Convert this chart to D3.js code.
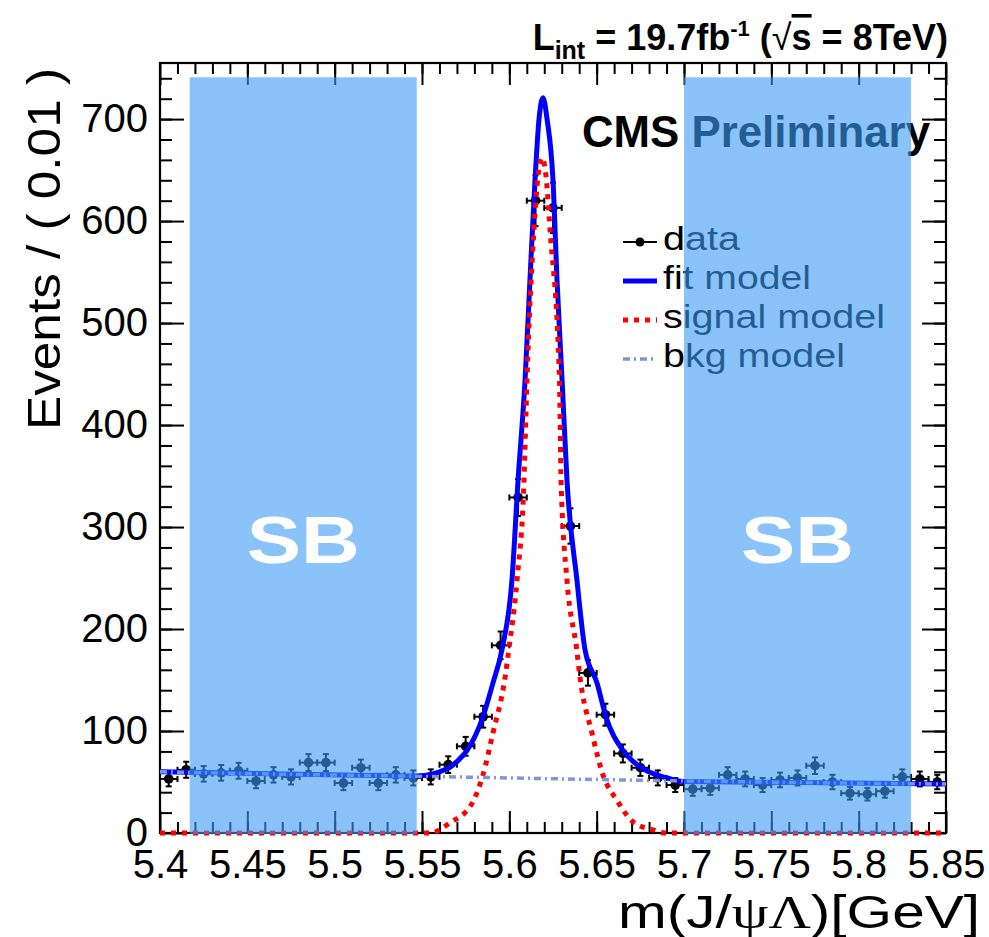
<!DOCTYPE html>
<html>
<head>
<meta charset="utf-8">
<script src="https://cdn.jsdelivr.net/npm/d3@7"></script>
<style>
  body { margin: 0; background: #fff; }
  text { font-family: 'Liberation Sans', Arial, sans-serif; }
</style>
</head>
<body>
<div id="chart"></div>
<script>
// binned data, 0.01 GeV bins
const massBins = [5.405, 5.415, 5.425, 5.435, 5.445, 5.455, 5.465, 5.475, 5.485, 5.495,
    5.505, 5.515, 5.525, 5.535, 5.545, 5.555, 5.565, 5.575, 5.585, 5.595,
    5.605, 5.615, 5.625, 5.635, 5.645, 5.655, 5.665, 5.675, 5.685, 5.695,
    5.705, 5.715, 5.725, 5.735, 5.745, 5.755, 5.765, 5.775, 5.785, 5.795,
    5.805, 5.815, 5.825, 5.835, 5.845];
const counts = [53, 62, 58, 59, 61, 51, 57, 55, 69, 69,
    49, 64, 49, 57, 54, 55, 67, 85, 114, 184,
    329, 620, 613, 301, 157, 116, 78, 64, 54, 47,
    43, 44, 57, 53, 47, 52, 54, 66, 50, 39,
    38, 41, 55, 53, 50];

// curves
const fitMass = [5.4, 5.48, 5.547, 5.5643, 5.5706, 5.5758, 5.5849, 5.5906, 5.5958, 5.6015,
    5.605, 5.609, 5.6118, 5.6147, 5.617, 5.6193, 5.6216, 5.625, 5.6273, 5.6302,
    5.633, 5.6387, 5.6433, 5.6502, 5.6553, 5.665, 5.6748, 5.6903, 5.6994, 5.7664, 5.85];
const fitValues = [60, 57.5, 56, 63, 71, 81, 114, 147, 180, 248,
    346, 444, 542, 640, 700, 721, 700, 640, 542, 444,
    346, 248, 180, 147, 114, 81, 65, 54, 50.5, 49.5, 48];

const sigMass = [5.4, 5.5546, 5.566, 5.5786, 5.5849, 5.5906, 5.5975, 5.5998, 5.6044, 5.6084,
    5.6101, 5.6141, 5.6164, 5.6187, 5.621, 5.6233, 5.6287, 5.6296, 5.633, 5.6385,
    5.6405, 5.6473, 5.6536, 5.6616, 5.6708, 5.6823, 5.6891, 5.85];
const sigValues = [0, 0, 10, 29, 57, 98, 152, 181, 248, 346,
    444, 591, 644, 662, 644, 591, 444, 346, 248, 181,
    152, 98, 57, 32, 11, 3, 0, 0];

const bkgMass = [5.4, 5.475, 5.55, 5.625, 5.7, 5.775, 5.85];
const bkgValues = [60, 57.5, 55.5, 53.2, 51, 49.3, 48];

const sbRanges = [[5.417, 5.547], [5.700, 5.830]];
const sbTop = 741;

const xMajorTicks = [5.4, 5.45, 5.5, 5.55, 5.6, 5.65, 5.7, 5.75, 5.8, 5.85];
const yMajorTicks = [0, 100, 200, 300, 400, 500, 600, 700];

const legendItems = ['data', 'fit model', 'signal model', 'bkg model'];
const legendWidths = [77, 148, 222, 182];

const W = 989, H = 937;
const frame = { left: 160, right: 946, top: 63, bottom: 833 };

const svg = d3.select('#chart').append('svg')
    .attr('width', W)
    .attr('height', H);

svg.append('rect').attr('width', W).attr('height', H).attr('fill', '#fff');

const x = d3.scaleLinear().domain([5.4, 5.85]).range([frame.left, frame.right]);
const y = d3.scaleLinear().domain([0, 755]).range([frame.bottom, frame.top]);

const xMinorTicks = d3.range(5.41, 5.85, 0.01).map(v => +v.toFixed(2));
const yMinorTicks = d3.range(20, 755, 20);

function addAxis(gen, tx, ty) {
    const g = svg.append('g')
        .attr('transform', `translate(${tx},${ty})`)
        .call(gen);
    g.select('.domain').remove();
    g.selectAll('line').attr('stroke', '#000').attr('stroke-width', 2);
    g.selectAll('text')
        .attr('font-family', "'Liberation Sans', Arial, sans-serif")
        .attr('font-size', 40)
        .attr('fill', '#000');
    return g;
}

// ticks inside the frame on all four sides
addAxis(d3.axisBottom(x).tickValues(xMajorTicks).tickSize(-22).tickPadding(17)
    .tickFormat(d => String(+d.toFixed(2))), 0, frame.bottom);
addAxis(d3.axisBottom(x).tickValues(xMinorTicks).tickSize(-11).tickFormat(''), 0, frame.bottom);
addAxis(d3.axisTop(x).tickValues(xMajorTicks).tickSize(-22).tickFormat(''), 0, frame.top);
addAxis(d3.axisTop(x).tickValues(xMinorTicks).tickSize(-11).tickFormat(''), 0, frame.top);
addAxis(d3.axisLeft(y).tickValues(yMajorTicks).tickSize(-24).tickPadding(12), frame.left, 0);
addAxis(d3.axisLeft(y).tickValues(yMinorTicks).tickSize(-12).tickFormat(''), frame.left, 0);
addAxis(d3.axisRight(y).tickValues(yMajorTicks).tickSize(-24).tickFormat(''), frame.right, 0);
addAxis(d3.axisRight(y).tickValues(yMinorTicks).tickSize(-12).tickFormat(''), frame.right, 0);

svg.append('rect')
    .attr('x', frame.left).attr('y', frame.top)
    .attr('width', frame.right - frame.left).attr('height', frame.bottom - frame.top)
    .attr('fill', 'none').attr('stroke', '#000').attr('stroke-width', 2.2);

svg.append('clipPath').attr('id', 'plotClip')
    .append('rect')
    .attr('x', frame.left).attr('y', frame.top - 5)
    .attr('width', frame.right - frame.left).attr('height', frame.bottom - frame.top + 8);

const plot = svg.append('g').attr('clip-path', 'url(#plotClip)');

// data points with poisson errors
const pts = plot.append('g').attr('stroke', '#000').attr('stroke-width', 2);
massBins.forEach((m, i) => {
    const c = counts[i];
    const err = Math.sqrt(c);
    const cx = x(m), cy = y(c);
    const x0 = x(m - 0.005), x1 = x(m + 0.005);
    const y0 = y(c - err), y1 = y(c + err);
    pts.append('line').attr('x1', x0).attr('x2', x1).attr('y1', cy).attr('y2', cy);
    pts.append('line').attr('x1', cx).attr('x2', cx).attr('y1', y0).attr('y2', y1);
    pts.append('line').attr('x1', x0).attr('x2', x0).attr('y1', cy - 3).attr('y2', cy + 3);
    pts.append('line').attr('x1', x1).attr('x2', x1).attr('y1', cy - 3).attr('y2', cy + 3);
    pts.append('line').attr('x1', cx - 3).attr('x2', cx + 3).attr('y1', y0).attr('y2', y0);
    pts.append('line').attr('x1', cx - 3).attr('x2', cx + 3).attr('y1', y1).attr('y2', y1);
    pts.append('circle').attr('cx', cx).attr('cy', cy).attr('r', 4.8)
        .attr('fill', '#000').attr('stroke', 'none');
});

const line = d3.line()
    .x(d => x(d[0]))
    .y(d => y(d[1]))
    .curve(d3.curveMonotoneX);

plot.append('path')
    .attr('d', line(d3.zip(fitMass, fitValues)))
    .attr('fill', 'none').attr('stroke', '#0000ff').attr('stroke-width', 5);

plot.append('path')
    .attr('d', line(d3.zip(sigMass, sigValues)))
    .attr('fill', 'none').attr('stroke', '#ff0000').attr('stroke-width', 5)
    .attr('stroke-dasharray', '5,6');

plot.append('path')
    .attr('d', line(d3.zip(bkgMass, bkgValues)))
    .attr('fill', 'none').attr('stroke', '#7f96d6').attr('stroke-width', 3.5)
    .attr('stroke-dasharray', '7,4,2,4');

// legend
const legend = svg.append('g');
const legBase = [250, 289, 328, 367];
legendItems.forEach((label, i) => {
    const by = legBase[i];
    const sy = by - 8;
    if (i === 0) {
        legend.append('line').attr('x1', 623).attr('x2', 657).attr('y1', sy).attr('y2', sy)
            .attr('stroke', '#000').attr('stroke-width', 2);
        legend.append('circle').attr('cx', 640).attr('cy', sy).attr('r', 4.5).attr('fill', '#000');
    } else if (i === 1) {
        legend.append('line').attr('x1', 623).attr('x2', 657).attr('y1', sy).attr('y2', sy)
            .attr('stroke', '#0000ff').attr('stroke-width', 5);
    } else if (i === 2) {
        legend.append('line').attr('x1', 623).attr('x2', 657).attr('y1', sy).attr('y2', sy)
            .attr('stroke', '#ff0000').attr('stroke-width', 5).attr('stroke-dasharray', '5,6');
    } else {
        legend.append('line').attr('x1', 623).attr('x2', 657).attr('y1', sy).attr('y2', sy)
            .attr('stroke', '#7f96d6').attr('stroke-width', 3.5).attr('stroke-dasharray', '7,4,2,4');
    }
    legend.append('text')
        .attr('x', 663).attr('y', by)
        .attr('font-size', 34)
        .attr('textLength', legendWidths[i])
        .attr('lengthAdjust', 'spacingAndGlyphs')
        .text(label);
});

svg.append('text')
    .attr('x', 582).attr('y', 147)
    .attr('font-size', 44).attr('font-weight', 'bold')
    .attr('textLength', 348).attr('lengthAdjust', 'spacingAndGlyphs')
    .text('CMS Preliminary');

// sideband overlays
sbRanges.forEach(r => {
    svg.append('rect')
        .attr('x', x(r[0])).attr('y', y(sbTop))
        .attr('width', x(r[1]) - x(r[0]))
        .attr('height', frame.bottom + 1 - y(sbTop))
        .attr('fill', 'rgb(60,155,245)')
        .attr('fill-opacity', 0.6);
    svg.append('text')
        .attr('x', x((r[0] + r[1]) / 2)).attr('y', 563)
        .attr('text-anchor', 'middle')
        .attr('font-size', 66).attr('font-weight', 'bold')
        .attr('fill', '#fff')
        .attr('textLength', 113).attr('lengthAdjust', 'spacingAndGlyphs')
        .text('SB');
});

// axis titles
svg.append('text')
    .attr('transform', 'translate(60,68) rotate(-90)')
    .attr('text-anchor', 'end')
    .attr('font-size', 46)
    .attr('textLength', 362).attr('lengthAdjust', 'spacingAndGlyphs')
    .text('Events / ( 0.01 )');

const xt = svg.append('text')
    .attr('x', 980).attr('y', 928)
    .attr('text-anchor', 'end')
    .attr('font-size', 47)
    .attr('textLength', 362).attr('lengthAdjust', 'spacingAndGlyphs');
xt.append('tspan').text('m(J/');
xt.append('tspan').attr('font-family', "'Liberation Serif', serif").text('ψΛ');
xt.append('tspan').text(')[GeV]');

// luminosity label
const lt = svg.append('text')
    .attr('x', 948).attr('y', 50)
    .attr('text-anchor', 'end')
    .attr('font-size', 36).attr('font-weight', 'bold');
lt.append('tspan').text('L');
lt.append('tspan').attr('font-size', 25).attr('dy', 9).text('int');
lt.append('tspan').attr('dy', -9).text(' = 19.7fb');
lt.append('tspan').attr('font-size', 22).attr('dy', -14).text('-1');
lt.append('tspan').attr('dy', 14).text(' (');
lt.append('tspan').attr('font-weight', 'normal').text('√');
lt.append('tspan').style('text-decoration', 'overline').text('s');
lt.append('tspan').text(' = 8TeV)');
</script>
</body>
</html>
